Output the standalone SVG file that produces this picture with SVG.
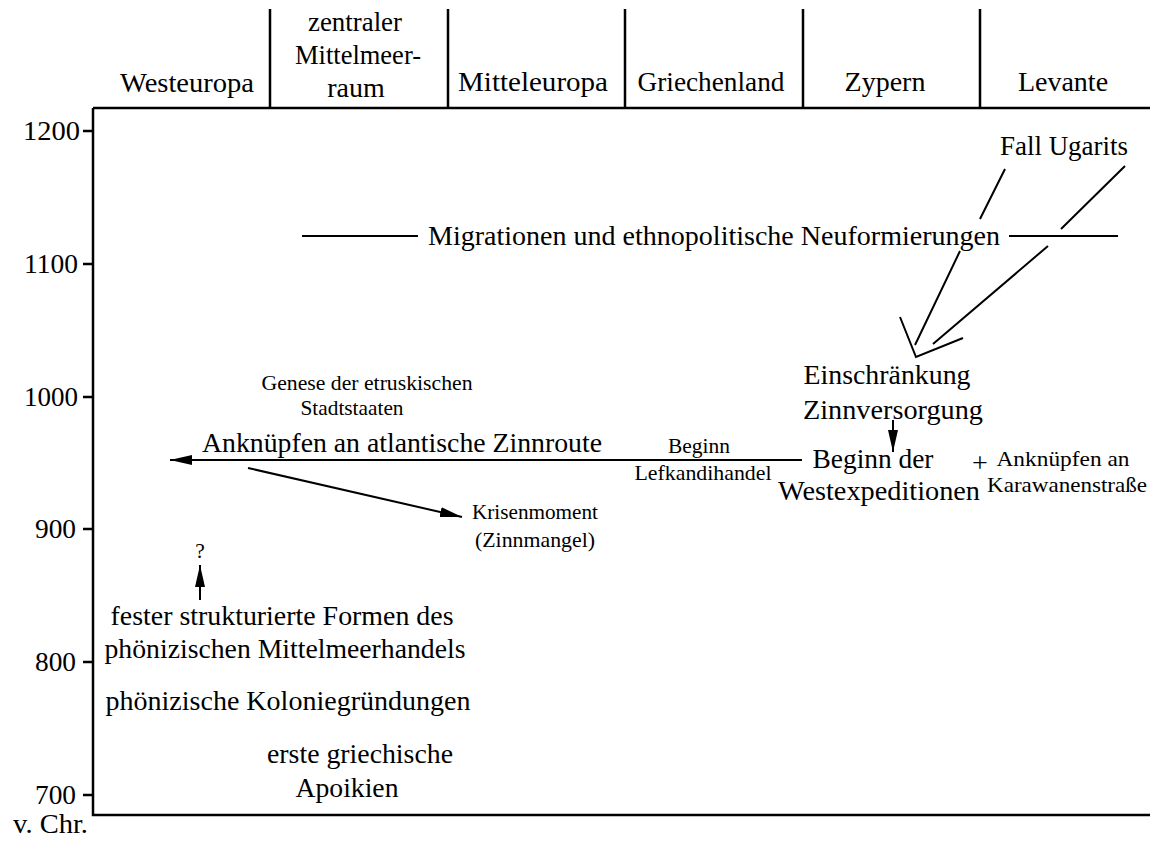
<svg xmlns="http://www.w3.org/2000/svg" width="1150" height="841" viewBox="0 0 1150 841" font-family="'Liberation Serif', 'DejaVu Serif', serif">
  <style>
    text { font-family: "Liberation Serif", "DejaVu Serif", serif; fill: #000; }
    .big { font-size: 28px; }
    .mid { font-size: 22px; }
    .small { font-size: 21.5px; }
    .c { text-anchor: middle; }
    .e { text-anchor: end; }
    .frame { stroke: #000; stroke-width: 2.5; fill: none; }
    .ln { stroke: #000; stroke-width: 2; fill: none; }
  </style>
  <defs>
    <marker id="head" markerUnits="userSpaceOnUse" markerWidth="24" markerHeight="12" refX="22" refY="5" orient="auto">
      <path d="M0,0 L22,5 L0,10 Z" fill="#000"/>
    </marker>
  </defs>
  <rect width="1150" height="841" fill="#fff"/>

  <!-- column headers and frame -->
  <g id="frame">
    <path class="frame" d="M93,108 H1150 M93,108 V815 H1150"/>
    <path class="frame" d="M270,9 V108 M448,9 V108 M625,9 V108 M803,9 V108 M980,9 V108"/>
  </g>
  <g id="headers">
    <text class="big c" x="187" y="92" textLength="134" lengthAdjust="spacingAndGlyphs">Westeuropa</text>
    <text class="big c" x="355" y="31" textLength="94" lengthAdjust="spacingAndGlyphs">zentraler</text>
    <text class="big c" x="358" y="64" textLength="126" lengthAdjust="spacingAndGlyphs">Mittelmeer-</text>
    <text class="big c" x="356" y="97">raum</text>
    <text class="big c" x="533" y="91" textLength="150" lengthAdjust="spacingAndGlyphs">Mitteleuropa</text>
    <text class="big c" x="711" y="91" textLength="147" lengthAdjust="spacingAndGlyphs">Griechenland</text>
    <text class="big c" x="885" y="91">Zypern</text>
    <text class="big c" x="1063" y="91">Levante</text>
  </g>

  <!-- time axis -->
  <g id="axis">
    <path class="frame" d="M83,131 H93 M83,264 H93 M83,397 H93 M83,529 H93 M83,662 H93 M83,795 H93"/>
    <text class="big e" x="80" y="140" textLength="57" lengthAdjust="spacingAndGlyphs">1200</text>
    <text class="big e" x="78" y="273" textLength="54" lengthAdjust="spacingAndGlyphs">1100</text>
    <text class="big e" x="78" y="406" textLength="54" lengthAdjust="spacingAndGlyphs">1000</text>
    <text class="big e" x="76" y="538" textLength="41" lengthAdjust="spacingAndGlyphs">900</text>
    <text class="big e" x="76" y="671" textLength="41" lengthAdjust="spacingAndGlyphs">800</text>
    <text class="big e" x="76" y="804" textLength="41" lengthAdjust="spacingAndGlyphs">700</text>
    <text class="big" x="13" y="833" textLength="75" lengthAdjust="spacingAndGlyphs">v. Chr.</text>
  </g>

  <!-- events -->
  <g id="fall-ugarits"><text class="big c" x="1064" y="155" textLength="128" lengthAdjust="spacingAndGlyphs">Fall Ugarits</text></g>
  <g id="migrationen"><text class="big" x="428" y="245" textLength="572" lengthAdjust="spacingAndGlyphs">Migrationen und ethnopolitische Neuformierungen</text></g>
  <g id="einschraenkung">
    <text class="big c" x="887" y="384" textLength="167" lengthAdjust="spacingAndGlyphs">Einschränkung</text>
    <text class="big c" x="893" y="419" textLength="180" lengthAdjust="spacingAndGlyphs">Zinnversorgung</text>
  </g>
  <g id="westexpeditionen">
    <text class="big c" x="873" y="468" textLength="121" lengthAdjust="spacingAndGlyphs">Beginn der</text>
    <text class="big c" x="879" y="500" textLength="202" lengthAdjust="spacingAndGlyphs">Westexpeditionen</text>
  </g>
  <g id="plus"><text class="big c" x="980" y="472">+</text></g>
  <g id="karawanen">
    <text class="mid c" x="1063" y="466" textLength="133" lengthAdjust="spacingAndGlyphs">Anknüpfen an</text>
    <text class="mid c" x="1067" y="492" textLength="160" lengthAdjust="spacingAndGlyphs">Karawanenstraße</text>
  </g>
  <g id="lefkandi">
    <text class="small c" x="699" y="453" textLength="62" lengthAdjust="spacingAndGlyphs">Beginn</text>
    <text class="small c" x="703" y="480" textLength="137" lengthAdjust="spacingAndGlyphs">Lefkandihandel</text>
  </g>
  <g id="etrusker">
    <text class="small c" x="367" y="390" textLength="211" lengthAdjust="spacingAndGlyphs">Genese der etruskischen</text>
    <text class="small c" x="352" y="415" textLength="103" lengthAdjust="spacingAndGlyphs">Stadtstaaten</text>
  </g>
  <g id="zinnroute"><text class="big" x="202" y="452" textLength="400" lengthAdjust="spacingAndGlyphs">Anknüpfen an atlantische Zinnroute</text></g>
  <g id="krisenmoment">
    <text class="small c" x="535" y="519" textLength="126" lengthAdjust="spacingAndGlyphs">Krisenmoment</text>
    <text class="small c" x="535" y="547" textLength="120" lengthAdjust="spacingAndGlyphs">(Zinnmangel)</text>
  </g>
  <g id="frage"><text class="small c" x="200" y="558">?</text></g>
  <g id="mittelmeerhandel">
    <text class="big c" x="282" y="625" textLength="343" lengthAdjust="spacingAndGlyphs">fester strukturierte Formen des</text>
    <text class="big c" x="285" y="658" textLength="361" lengthAdjust="spacingAndGlyphs">phönizischen Mittelmeerhandels</text>
  </g>
  <g id="kolonien"><text class="big c" x="288" y="710" textLength="365" lengthAdjust="spacingAndGlyphs">phönizische Koloniegründungen</text></g>
  <g id="apoikien">
    <text class="big c" x="360" y="763" textLength="186" lengthAdjust="spacingAndGlyphs">erste griechische</text>
    <text class="big c" x="347" y="797" textLength="103" lengthAdjust="spacingAndGlyphs">Apoikien</text>
  </g>

  <!-- connectors -->
  <g id="connectors">
    <path class="ln" d="M302,236 H418 M1009,236 H1118"/>
    <path class="ln" d="M1005,169 L980,219 M960,251 L915,345"/>
    <path class="ln" d="M1125,166 L1061,229 M1048,246 L933,344"/>
    <polyline class="ln" points="900,317 916,357 963,338"/>
    <line class="ln" x1="802" y1="460" x2="170" y2="460" marker-end="url(#head)"/>
    <line class="ln" x1="248" y1="468" x2="462" y2="517" marker-end="url(#head)"/>
    <line class="ln" x1="893" y1="420" x2="893" y2="452" marker-end="url(#head)"/>
    <line class="ln" x1="200" y1="600" x2="200" y2="565" marker-end="url(#head)"/>
  </g>
</svg>
